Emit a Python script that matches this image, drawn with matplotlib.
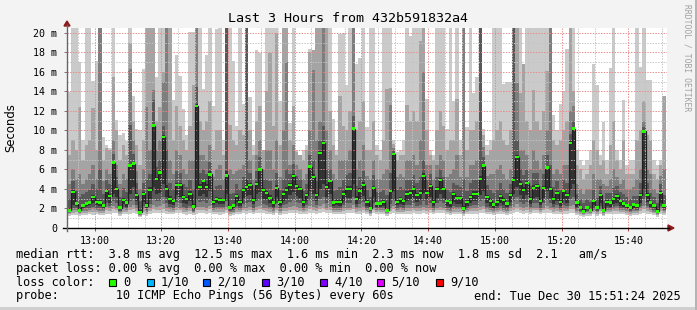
## SmokePing style latency graph, last 3 hours
import numpy as np
import matplotlib.pyplot as plt
from matplotlib.patches import Rectangle, Polygon

W, H = 697, 310

## Data: one column per minute, first sample at 12:52 (minutes counted from 12:00)
first_minute = 52.1
title = "Last 3 Hours from 432b591832a4"

# median rtt (ms)
median = [
    1.8, 3.7, 2.5, 1.8, 2.3, 2.5, 2.6, 3.2, 2.7, 2.6,
    2.3, 3.8, 3.3, 6.7, 4.0, 2.1, 2.9, 2.6, 6.4, 6.6,
    3.4, 1.6, 3.5, 2.3, 3.9, 10.5, 5.0, 5.7, 9.3, 4.0,
    3.0, 2.8, 4.4, 4.4, 3.2, 3.0, 3.5, 2.2, 12.5, 4.2,
    4.8, 4.2, 5.5, 2.7, 3.0, 2.9, 2.9, 5.4, 2.1, 2.3,
    3.3, 2.7, 3.9, 4.2, 4.4, 2.9, 4.5, 6.0, 3.9, 3.6,
    3.1, 2.6, 4.1, 2.7, 3.5, 3.9, 4.4, 5.3, 4.3, 4.0,
    2.7, 3.4, 6.3, 5.2, 3.4, 7.7, 8.7, 4.2, 4.8, 2.6,
    2.7, 2.7, 3.5, 4.0, 4.0, 10.2, 3.0, 3.8, 4.4, 2.7,
    2.0, 4.1, 2.5, 2.5, 2.7, 1.8, 3.8, 7.6, 2.7, 3.0,
    2.8, 3.5, 3.6, 4.0, 3.4, 3.6, 5.3, 3.6, 4.3, 2.7,
    4.0, 4.9, 4.0, 2.8, 2.6, 3.5, 3.1, 3.1, 2.0, 2.7,
    3.2, 3.5, 3.5, 5.0, 6.4, 3.2, 2.8, 2.4, 2.7, 3.3,
    2.9, 2.5, 3.4, 4.9, 7.3, 4.5, 3.9, 4.6, 3.0, 4.1,
    4.3, 2.8, 4.1, 6.2, 4.0, 3.0, 3.6, 2.7, 3.8, 3.4,
    8.7, 10.2, 2.6, 2.1, 1.7, 2.1, 1.8, 2.8, 2.1, 3.4,
    1.8, 2.7, 2.6, 3.0, 3.3, 2.8, 2.5, 2.3, 2.1, 2.4,
    2.3, 3.4, 9.9, 3.4, 2.6, 2.3, 1.7, 3.6, 2.3]

# the ten pings of each minute, sorted (ping01 fastest ... ping10 slowest), ms
ping10 = [
    13.9, 21, 21, 17.0, 9.0, 21, 21, 15.1, 17.1, 21,
    9.3, 8.2, 8.2, 21, 11.1, 9.5, 9.7, 8.9, 21, 13.5,
    10.2, 10.0, 16.3, 21, 21, 21, 15.5, 21, 21, 21,
    21, 13.1, 17.7, 15.6, 12.2, 9.5, 20.1, 20.1, 21, 21,
    14.3, 17.7, 21, 12.5, 20.4, 21, 9.0, 21, 21, 17.1,
    10.5, 21, 12.7, 21, 13.4, 8.5, 18.3, 17.9, 8.0, 21,
    21, 21, 21, 13.0, 21, 21, 10.8, 21, 8.0, 7.5,
    8.0, 8.5, 18.4, 18.3, 21, 21, 21, 21, 21, 11.2,
    8.0, 19.9, 20.0, 14.7, 21, 21, 16.8, 17.4, 21, 10.4,
    21, 21, 8.5, 8.0, 21, 21, 21, 9.0, 7.8, 8.0,
    9.0, 21, 19.7, 21, 21, 21, 21, 13.2, 8.0, 7.5,
    21, 21, 21, 10.2, 21, 13.0, 21, 9.0, 21, 10.4,
    21, 13.8, 15.5, 21, 10.2, 8.5, 9.0, 21, 21, 21,
    14.8, 15.0, 15.0, 21, 21, 21, 16.8, 21, 21, 21,
    21, 21, 21, 21, 21, 11.6, 10.1, 12.7, 14.1, 18.4,
    21, 21, 8.0, 7.0, 6.5, 7.0, 8.0, 16.8, 14.7, 7.5,
    10.9, 7.0, 16.4, 21, 8.0, 7.0, 13.1, 6.5, 7.0, 7.0,
    21, 16.5, 21, 15.2, 15.2, 7.0, 6.5, 7.0, 13.5]
ping09 = [
    7.5, 9.0, 8.0, 12.4, 7.0, 8.5, 9.0, 12.3, 8.0, 21,
    7.0, 8.5, 8.0, 15.5, 10.0, 7.0, 8.5, 7.5, 19.0, 11.0,
    8.5, 6.5, 9.0, 21, 21, 21, 11.0, 12.4, 16.0, 21,
    21, 9.0, 12.5, 10.5, 9.0, 8.0, 10.5, 14.7, 21, 11.0,
    10.0, 11.0, 13.0, 8.0, 10.0, 10.0, 7.5, 21, 10.6, 9.0,
    8.5, 10.0, 9.5, 21, 10.0, 7.5, 11.0, 12.5, 8.0, 14.1,
    17.9, 10.5, 20.0, 8.5, 21, 21, 9.0, 12.5, 7.8, 7.5,
    7.0, 8.0, 18.0, 18.3, 21, 21, 21, 21, 12.0, 8.5,
    7.5, 13.5, 10.5, 10.0, 12.0, 21, 10.0, 11.0, 13.0, 8.0,
    8.0, 11.0, 7.5, 7.0, 9.0, 14.3, 14.4, 8.6, 7.0, 7.5,
    7.5, 12.6, 11.0, 12.0, 11.0, 19.2, 21, 10.0, 7.5, 7.0,
    10.0, 12.0, 10.5, 8.0, 9.0, 9.0, 13.2, 7.5, 21, 8.0,
    10.0, 10.0, 11.0, 21, 9.5, 7.5, 8.0, 9.0, 10.0, 11.0,
    9.0, 8.5, 10.0, 21, 21, 13.8, 16.8, 11.0, 10.0, 14.2,
    11.0, 10.0, 12.0, 16.1, 21, 9.0, 8.5, 9.0, 10.0, 11.0,
    21, 14.0, 6.5, 6.0, 5.0, 5.5, 6.5, 9.0, 8.0, 6.5,
    7.0, 5.5, 8.5, 11.0, 7.0, 6.0, 9.0, 5.5, 5.5, 5.5,
    9.0, 10.0, 13.0, 9.5, 9.0, 5.5, 5.0, 6.5, 13.5]
ping08 = [
    4.5, 6.0, 5.0, 5.5, 4.5, 5.0, 5.5, 6.5, 5.0, 21,
    4.8, 6.0, 5.5, 9.0, 6.5, 4.5, 5.5, 5.0, 16.3, 9.0,
    5.8, 4.0, 6.0, 12.4, 8.0, 14.2, 8.0, 9.0, 15.0, 21,
    7.0, 5.5, 8.0, 7.5, 6.0, 5.5, 7.0, 7.0, 21, 7.5,
    7.5, 7.0, 8.5, 5.2, 6.0, 6.5, 5.0, 21, 6.0, 5.5,
    5.8, 6.0, 6.5, 21, 7.0, 5.0, 7.5, 9.0, 6.0, 8.0,
    8.0, 6.0, 9.0, 5.2, 10.0, 17.0, 6.5, 8.5, 6.5, 6.0,
    5.0, 5.5, 10.0, 16.2, 9.0, 11.0, 21, 10.0, 8.0, 5.5,
    5.0, 7.0, 7.0, 7.0, 8.0, 21, 6.0, 7.0, 8.5, 5.3,
    5.0, 7.0, 5.0, 5.0, 5.5, 6.0, 12.6, 8.2, 5.2, 5.5,
    5.2, 7.0, 7.0, 7.5, 6.5, 9.0, 16.0, 6.5, 6.5, 5.0,
    6.5, 7.5, 7.0, 5.2, 5.5, 6.0, 7.5, 5.2, 21, 5.2,
    6.5, 6.5, 7.0, 21, 8.3, 5.3, 5.5, 5.5, 6.0, 6.5,
    5.5, 5.0, 6.0, 21, 14.9, 8.0, 8.0, 7.5, 6.0, 8.0,
    7.0, 6.0, 7.5, 10.0, 21, 5.5, 6.0, 5.5, 6.5, 6.5,
    12.0, 12.5, 4.5, 4.0, 3.5, 4.0, 4.0, 5.5, 5.0, 5.0,
    4.5, 4.3, 5.0, 6.0, 5.2, 4.5, 5.0, 4.0, 4.0, 4.2,
    5.0, 6.0, 11.0, 6.0, 5.5, 4.0, 3.6, 5.3, 6.0]
ping07 = [
    3.0, 4.8, 3.8, 3.2, 3.5, 3.7, 3.9, 4.5, 4.0, 6.0,
    3.5, 4.9, 4.5, 7.6, 5.2, 3.2, 4.1, 3.7, 10.6, 7.6,
    4.6, 2.8, 4.6, 5.0, 5.5, 13.1, 6.3, 7.0, 10.5, 8.0,
    4.6, 4.0, 5.8, 5.6, 4.5, 4.2, 4.9, 4.0, 14.5, 5.6,
    6.0, 5.5, 6.8, 3.9, 4.3, 4.4, 3.9, 21, 3.5, 3.6,
    4.5, 4.0, 5.2, 21, 5.6, 4.0, 5.8, 7.3, 5.0, 5.0,
    4.8, 3.9, 5.6, 3.9, 5.0, 6.0, 5.5, 6.6, 5.3, 5.0,
    3.8, 4.5, 7.5, 7.0, 4.8, 9.0, 10.5, 6.0, 6.0, 3.8,
    3.9, 4.2, 4.9, 5.4, 5.6, 11.5, 4.3, 5.2, 5.8, 3.9,
    3.2, 5.4, 3.7, 3.7, 3.9, 3.4, 5.6, 7.9, 3.9, 4.2,
    4.0, 4.9, 4.9, 5.4, 4.6, 5.2, 7.0, 4.9, 5.5, 3.9,
    5.2, 6.1, 5.2, 3.9, 3.7, 4.6, 4.4, 4.2, 5.0, 3.8,
    4.6, 4.9, 4.9, 21, 7.3, 4.4, 3.9, 3.6, 3.9, 4.6,
    4.0, 3.6, 4.5, 21, 9.0, 6.0, 5.4, 5.9, 4.3, 5.6,
    5.6, 4.0, 5.5, 7.5, 6.5, 4.2, 4.8, 3.9, 5.0, 4.6,
    9.6, 11.0, 3.5, 3.0, 2.6, 3.0, 2.7, 3.9, 3.1, 4.3,
    2.8, 3.6, 3.6, 4.1, 4.3, 3.7, 3.5, 3.2, 3.0, 3.3,
    3.3, 4.6, 10.4, 4.6, 3.6, 3.2, 2.6, 4.5, 3.4]
ping06 = [
    2.0, 3.9, 2.7, 2.0, 2.5, 2.7, 2.8, 3.4, 2.9, 2.9,
    2.5, 4.0, 3.5, 6.9, 4.2, 2.3, 3.1, 2.8, 6.6, 6.8,
    3.6, 1.8, 3.7, 2.6, 4.2, 10.7, 5.2, 5.9, 9.5, 4.4,
    3.3, 3.0, 4.6, 4.6, 3.4, 3.2, 3.8, 2.5, 12.7, 4.5,
    5.0, 4.5, 5.8, 2.9, 3.2, 3.1, 3.0, 5.8, 2.3, 2.5,
    3.5, 2.9, 4.1, 5.0, 4.6, 3.1, 4.7, 6.2, 4.1, 3.8,
    3.4, 2.8, 4.4, 2.9, 3.8, 4.2, 4.6, 5.5, 4.5, 4.2,
    2.9, 3.6, 6.5, 5.5, 3.6, 7.9, 8.9, 4.5, 5.0, 2.8,
    3.0, 3.0, 3.8, 4.3, 4.3, 10.4, 3.3, 4.1, 4.7, 2.9,
    2.2, 4.3, 2.7, 2.7, 2.9, 2.1, 4.0, 7.7, 2.9, 3.2,
    3.0, 3.8, 3.9, 4.3, 3.6, 3.9, 5.6, 3.9, 4.5, 2.9,
    4.2, 5.1, 4.2, 3.0, 2.8, 3.7, 3.3, 3.3, 2.3, 2.9,
    3.4, 3.8, 3.8, 5.3, 6.6, 3.4, 3.0, 2.6, 2.9, 3.5,
    3.1, 2.7, 3.6, 5.2, 7.5, 4.8, 4.2, 4.8, 3.2, 4.4,
    4.5, 3.0, 4.3, 6.4, 4.2, 3.2, 3.8, 2.9, 4.0, 3.6,
    8.9, 10.4, 2.8, 2.3, 1.9, 2.3, 2.0, 3.0, 2.3, 3.6,
    2.0, 2.9, 2.8, 3.2, 3.5, 3.0, 2.7, 2.5, 2.3, 2.6,
    2.5, 3.6, 10.1, 3.6, 2.8, 2.5, 1.9, 3.8, 2.5]
ping05 = [
    1.7, 2.4, 2.3, 1.7, 2.1, 2.3, 2.4, 2.6, 2.4, 2.3,
    2.1, 3.0, 2.6, 3.5, 3.2, 1.9, 2.5, 2.2, 3.5, 4.2,
    2.8, 1.5, 2.7, 2.0, 3.0, 4.2, 3.5, 3.6, 4.5, 3.2,
    2.5, 2.4, 3.4, 3.2, 2.6, 2.5, 2.8, 1.9, 4.0, 3.3,
    3.5, 3.2, 3.8, 2.4, 2.6, 2.5, 2.5, 3.5, 1.9, 2.0,
    2.7, 2.3, 3.1, 3.3, 3.4, 2.5, 3.5, 3.7, 3.0, 2.9,
    2.6, 2.2, 3.2, 2.3, 2.8, 3.0, 3.4, 3.7, 3.3, 3.1,
    2.3, 2.8, 3.8, 3.5, 2.8, 4.0, 4.5, 3.2, 3.5, 2.3,
    2.4, 2.3, 2.8, 3.1, 3.1, 4.5, 2.5, 3.0, 3.3, 2.3,
    1.8, 3.2, 2.2, 2.2, 2.3, 1.7, 3.0, 3.8, 2.4, 2.5,
    2.4, 2.8, 2.9, 3.1, 2.7, 2.9, 3.6, 2.9, 3.2, 2.3,
    3.1, 3.5, 3.1, 2.3, 2.2, 2.7, 2.5, 2.5, 1.8, 2.3,
    2.6, 2.8, 2.8, 3.4, 3.8, 2.6, 2.3, 2.1, 2.3, 2.6,
    2.4, 2.2, 2.7, 3.5, 4.2, 3.4, 3.0, 3.4, 2.5, 3.1,
    3.2, 2.4, 3.1, 3.8, 3.1, 2.5, 2.8, 2.3, 2.9, 2.6,
    4.0, 4.5, 2.2, 1.9, 1.6, 1.9, 1.7, 2.4, 1.9, 2.6,
    1.7, 2.3, 2.2, 2.5, 2.6, 2.3, 2.2, 2.0, 1.9, 2.1,
    2.0, 2.6, 4.0, 2.7, 2.2, 2.0, 1.6, 2.6, 2.0]
ping04 = [
    1.6, 2.1, 2.0, 1.6, 1.9, 2.0, 2.1, 2.2, 2.1, 2.0,
    1.9, 2.6, 2.3, 2.8, 2.6, 1.7, 2.2, 2.0, 2.8, 3.0,
    2.4, 1.4, 2.3, 1.8, 2.5, 3.0, 2.8, 2.8, 3.2, 2.6,
    2.2, 2.1, 2.7, 2.6, 2.2, 2.1, 2.3, 1.7, 2.9, 2.7,
    2.8, 2.6, 2.9, 2.1, 2.2, 2.2, 2.2, 2.8, 1.7, 1.8,
    2.3, 2.0, 2.5, 2.6, 2.7, 2.1, 2.8, 2.9, 2.5, 2.4,
    2.2, 1.9, 2.6, 2.0, 2.4, 2.5, 2.7, 2.9, 2.7, 2.6,
    2.0, 2.4, 2.9, 2.8, 2.4, 3.0, 3.2, 2.6, 2.8, 2.0,
    2.1, 2.0, 2.4, 2.6, 2.6, 3.2, 2.2, 2.5, 2.7, 2.0,
    1.7, 2.6, 2.0, 2.0, 2.0, 1.6, 2.5, 2.9, 2.1, 2.2,
    2.1, 2.4, 2.4, 2.6, 2.3, 2.4, 2.8, 2.4, 2.6, 2.0,
    2.6, 2.8, 2.6, 2.0, 1.9, 2.3, 2.2, 2.2, 1.7, 2.0,
    2.3, 2.4, 2.4, 2.8, 3.0, 2.2, 2.0, 1.9, 2.0, 2.3,
    2.1, 1.9, 2.3, 2.8, 3.2, 2.7, 2.5, 2.7, 2.2, 2.6,
    2.6, 2.1, 2.6, 2.9, 2.6, 2.2, 2.4, 2.0, 2.4, 2.3,
    3.0, 3.2, 1.9, 1.7, 1.5, 1.7, 1.6, 2.1, 1.7, 2.3,
    1.6, 2.0, 2.0, 2.2, 2.3, 2.1, 2.0, 1.9, 1.7, 1.9,
    1.8, 2.3, 3.0, 2.3, 2.0, 1.8, 1.5, 2.3, 1.8]
ping03 = [
    1.5, 1.8, 1.8, 1.5, 1.7, 1.7, 1.8, 1.9, 1.8, 1.7,
    1.7, 2.2, 2.0, 2.3, 2.1, 1.6, 1.9, 1.8, 2.2, 2.4,
    2.0, 1.3, 1.9, 1.6, 2.1, 2.4, 2.2, 2.3, 2.5, 2.1,
    1.9, 1.8, 2.2, 2.1, 1.9, 1.8, 2.0, 1.6, 2.2, 2.2,
    2.2, 2.1, 2.3, 1.8, 1.9, 1.9, 1.9, 2.2, 1.6, 1.6,
    1.9, 1.8, 2.1, 2.1, 2.2, 1.8, 2.2, 2.3, 2.1, 2.0,
    1.9, 1.7, 2.1, 1.7, 2.0, 2.1, 2.2, 2.3, 2.2, 2.1,
    1.8, 2.0, 2.3, 2.2, 2.0, 2.3, 2.5, 2.1, 2.2, 1.8,
    1.8, 1.8, 2.0, 2.1, 2.1, 2.4, 1.9, 2.1, 2.2, 1.8,
    1.5, 2.1, 1.8, 1.8, 1.8, 1.5, 2.1, 2.3, 1.8, 1.9,
    1.8, 2.0, 2.0, 2.1, 2.0, 2.0, 2.2, 2.0, 2.1, 1.8,
    2.1, 2.2, 2.1, 1.8, 1.7, 1.9, 1.9, 1.9, 1.5, 1.8,
    1.9, 2.0, 2.0, 2.2, 2.3, 1.9, 1.8, 1.7, 1.8, 1.9,
    1.8, 1.7, 2.0, 2.2, 2.5, 2.2, 2.1, 2.2, 1.9, 2.1,
    2.1, 1.8, 2.1, 2.3, 2.1, 1.9, 2.0, 1.8, 2.0, 1.9,
    2.3, 2.4, 1.7, 1.6, 1.4, 1.6, 1.5, 1.8, 1.6, 1.9,
    1.5, 1.8, 1.8, 1.9, 2.0, 1.8, 1.8, 1.7, 1.6, 1.7,
    1.7, 2.0, 2.3, 2.0, 1.8, 1.6, 1.4, 2.0, 1.7]
ping02 = [
    1.4, 1.5, 1.6, 1.4, 1.5, 1.5, 1.6, 1.6, 1.6, 1.5,
    1.5, 1.8, 1.7, 1.9, 1.8, 1.4, 1.6, 1.6, 1.8, 1.9,
    1.7, 1.2, 1.6, 1.4, 1.7, 1.9, 1.8, 1.8, 1.9, 1.7,
    1.6, 1.6, 1.8, 1.8, 1.6, 1.6, 1.7, 1.5, 1.8, 1.8,
    1.8, 1.7, 1.9, 1.6, 1.6, 1.6, 1.6, 1.8, 1.4, 1.5,
    1.6, 1.6, 1.8, 1.7, 1.8, 1.6, 1.8, 1.9, 1.8, 1.7,
    1.6, 1.5, 1.8, 1.5, 1.7, 1.7, 1.8, 1.8, 1.8, 1.7,
    1.6, 1.7, 1.9, 1.8, 1.7, 1.9, 2.0, 1.8, 1.8, 1.6,
    1.6, 1.6, 1.7, 1.8, 1.8, 1.9, 1.6, 1.7, 1.8, 1.6,
    1.4, 1.8, 1.6, 1.6, 1.6, 1.4, 1.7, 1.9, 1.6, 1.6,
    1.6, 1.7, 1.7, 1.8, 1.7, 1.7, 1.8, 1.7, 1.8, 1.6,
    1.8, 1.8, 1.8, 1.6, 1.5, 1.6, 1.6, 1.6, 1.4, 1.6,
    1.7, 1.7, 1.7, 1.8, 1.9, 1.6, 1.6, 1.5, 1.6, 1.7,
    1.6, 1.5, 1.7, 1.8, 2.0, 1.8, 1.7, 1.8, 1.6, 1.8,
    1.8, 1.6, 1.8, 1.9, 1.8, 1.6, 1.7, 1.6, 1.7, 1.7,
    1.9, 1.9, 1.5, 1.4, 1.3, 1.4, 1.4, 1.6, 1.4, 1.7,
    1.3, 1.6, 1.6, 1.7, 1.7, 1.6, 1.6, 1.5, 1.4, 1.5,
    1.5, 1.7, 1.9, 1.7, 1.6, 1.5, 1.3, 1.7, 1.5]
ping01 = [
    1.2, 1.3, 1.3, 1.2, 1.3, 1.3, 1.4, 1.3, 1.4, 1.3,
    1.3, 1.4, 1.4, 1.5, 1.5, 1.2, 1.4, 1.4, 1.4, 1.5,
    1.4, 1.1, 1.3, 1.2, 1.4, 1.5, 1.5, 1.5, 1.5, 1.4,
    1.4, 1.4, 1.5, 1.5, 1.4, 1.3, 1.4, 1.3, 1.4, 1.5,
    1.5, 1.4, 1.5, 1.4, 1.4, 1.3, 1.4, 1.5, 1.2, 1.3,
    1.4, 1.4, 1.5, 1.4, 1.5, 1.4, 1.5, 1.5, 1.5, 1.4,
    1.4, 1.3, 1.5, 1.3, 1.4, 1.4, 1.5, 1.5, 1.5, 1.4,
    1.4, 1.4, 1.5, 1.5, 1.4, 1.5, 1.6, 1.5, 1.5, 1.4,
    1.4, 1.4, 1.4, 1.5, 1.5, 1.5, 1.4, 1.4, 1.5, 1.4,
    1.2, 1.5, 1.4, 1.4, 1.4, 1.2, 1.4, 1.5, 1.4, 1.4,
    1.4, 1.4, 1.4, 1.5, 1.4, 1.4, 1.5, 1.4, 1.5, 1.4,
    1.5, 1.5, 1.5, 1.4, 1.3, 1.4, 1.4, 1.4, 1.2, 1.4,
    1.4, 1.4, 1.4, 1.5, 1.5, 1.4, 1.4, 1.3, 1.4, 1.4,
    1.4, 1.3, 1.4, 1.5, 1.6, 1.5, 1.4, 1.5, 1.4, 1.5,
    1.5, 1.4, 1.5, 1.5, 1.5, 1.4, 1.4, 1.4, 1.4, 1.4,
    1.5, 1.5, 1.3, 1.2, 1.1, 1.2, 1.2, 1.4, 1.2, 1.4,
    1.2, 1.4, 1.4, 1.4, 1.4, 1.4, 1.4, 1.3, 1.2, 1.3,
    1.3, 1.4, 1.5, 1.4, 1.4, 1.3, 1.1, 1.4, 1.3]

# legend texts
rtt_line = "median rtt:  3.8 ms avg  12.5 ms max  1.6 ms min  2.3 ms now  1.8 ms sd  2.1   am/s"
loss_line = "packet loss: 0.00 % avg  0.00 % max  0.00 % min  0.00 % now"
probe_line = "probe:        10 ICMP Echo Pings (56 Bytes) every 60s"
end_line = "end: Tue Dec 30 15:51:24 2025"
loss_labels = ["0", "1/10", "2/10", "3/10", "4/10", "5/10", "9/10"]
loss_colors = ["#26ff00", "#00b8ff", "#0059ff", "#5e00ff", "#7e00ff", "#dd00ff", "#ff0000"]

# tick labels
y_ticks = list(range(0, 21, 2))
y_labels = ["0"] + ["%d m" % v for v in y_ticks[1:]]
x_ticks = [60, 80, 100, 120, 140, 160, 180, 200, 220]
x_labels = ["13:00", "13:20", "13:40", "14:00", "14:20", "14:40", "15:00", "15:20", "15:40"]

## Figure
MONO = "DejaVu Sans Mono"
LEG = 8.53
fig = plt.figure(figsize=(W / 100, H / 100), dpi=100, facecolor="#f3f3f3")

def fx(x):
    return x / W

def fy(y):
    return 1 - y / H

ax = fig.add_axes([fx(67), fy(228), 600 / W, 200 / H])
ax.set_facecolor("white")
ax.set_xlim(51.76, 231.54)
ax.set_ylim(0, 20.51)

n = len(median)
edges = first_minute + np.arange(n + 1)
pings = np.sort(np.array([ping01, ping02, ping03, ping04, ping05,
                          ping06, ping07, ping08, ping09, ping10]), axis=0)
med = np.array(median)

# smoke: outer pairs light, inner pairs dark
smoke = ["#cacaca", "#a4a4a4", "#7e7e7e", "#585858", "#323232"]
for i, col in enumerate(smoke):
    ax.stairs(pings[9 - i], edges, baseline=pings[i], fill=True,
              color=col, lw=0, antialiased=False, zorder=1)

# median line + loss colour marks
ax.stairs(med, edges, baseline=None, color="#202020", lw=0.9, zorder=3)
ax.stairs(med + 0.12, edges, baseline=med - 0.12, fill=True,
          color=loss_colors[0], lw=0, antialiased=False, zorder=4)

# grid
ax.set_yticks(y_ticks)
ax.set_yticklabels(y_labels)
ax.set_yticks(np.arange(1, 21, 2), minor=True)
ax.set_xticks(x_ticks)
ax.set_xticklabels(x_labels)
ax.set_xticks(np.arange(55, 232, 5), minor=True)
ax.set_axisbelow(False)
dots = (0, (1.4, 1.4))
ax.grid(which="minor", color="#c4c4c4", ls=dots, lw=0.7)
ax.grid(which="major", color="#e88a8a", ls=dots, lw=0.7)
for lbl in ax.get_xticklabels() + ax.get_yticklabels():
    lbl.set_fontfamily(MONO)
    lbl.set_fontsize(7.2)
ax.tick_params(axis="y", which="major", length=2, width=0.7, color="#777777", pad=5)
ax.tick_params(axis="x", which="major", length=2, width=0.7, color="#b04040", pad=4)
ax.tick_params(which="minor", length=0)
for s in ax.spines.values():
    s.set_visible(False)

# axes lines and arrows (in figure pixels)
fig.add_artist(plt.Line2D([fx(63), fx(669)], [fy(228), fy(228)], color="black", lw=1))
fig.add_artist(plt.Line2D([fx(67), fx(67)], [fy(231), fy(25)], color="#666666", lw=1))
fig.add_artist(Polygon([[fx(64), fy(26)], [fx(70), fy(26)], [fx(67), fy(21)]],
                       closed=True, color="#8b1a1a", transform=fig.transFigure))
fig.add_artist(Polygon([[fx(668), fy(225)], [fx(668), fy(231)], [fx(674), fy(228)]],
                       closed=True, color="#8b1a1a", transform=fig.transFigure))

# titles
fig.text(fx(348), fy(19), title, family=MONO, fontsize=9.6, ha="center", va="center")
fig.text(fx(10.5), fy(128), "Seconds", fontsize=8.4, rotation=90, ha="center", va="center")
fig.text(fx(687), fy(4), "RRDTOOL / TOBI OETIKER", family=MONO, fontsize=5.8,
         color="#a0a0a0", rotation=270, ha="center", va="top")

# legend
fig.text(fx(15.5), fy(254.3), rtt_line, family=MONO, fontsize=LEG, va="center")
fig.text(fx(15.5), fy(268.3), loss_line, family=MONO, fontsize=LEG, va="center")
fig.text(fx(15.5), fy(282.3), "loss color:", family=MONO, fontsize=LEG, va="center")
fig.text(fx(15.5), fy(296), probe_line, family=MONO, fontsize=LEG, va="center")
fig.text(fx(681), fy(296), end_line, family=MONO, fontsize=LEG, va="center", ha="right")

box_x = [109, 146.7, 203, 261.7, 320, 377.3, 435.7]
for bx, lab, col in zip(box_x, loss_labels, loss_colors):
    fig.add_artist(Rectangle((fx(bx), fy(285.8)), 7 / W, 7 / H, facecolor=col,
                             edgecolor="black", lw=0.8, transform=fig.transFigure))
    fig.text(fx(bx + 14.3), fy(282.3), lab, family=MONO, fontsize=LEG, va="center")

# frame of the canvas
fig.add_artist(Rectangle((0, 0), 1, 3 / H, facecolor="#cfcfcf", lw=0, transform=fig.transFigure))
fig.add_artist(Rectangle((1 - 2 / W, 0), 2 / W, 1, facecolor="#b4b4b4", lw=0, transform=fig.transFigure))

fig.savefig("out.png", dpi=100, facecolor=fig.get_facecolor())
